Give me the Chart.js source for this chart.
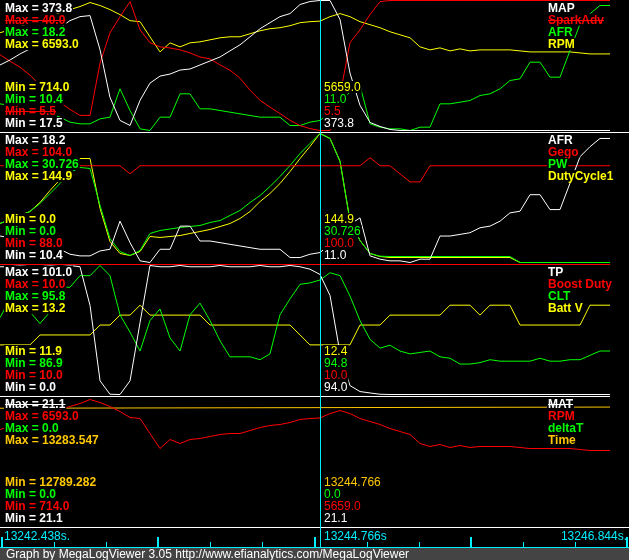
<!DOCTYPE html>
<html>
<head>
<meta charset="utf-8">
<script src="https://cdn.jsdelivr.net/npm/chart.js@4.4.0/dist/chart.umd.min.js"></script>
<style>
  html, body { margin: 0; padding: 0; background: #000; }
</style>
</head>
<body>
<canvas id="log" width="629" height="560"></canvas>
<script>
// log record times (s)
const times = [
  13242.438, 13242.511, 13242.584, 13242.656, 13242.729, 13242.802, 13242.875, 13242.947, 13243.020, 13243.093,
  13243.166, 13243.238, 13243.311, 13243.384, 13243.457, 13243.529, 13243.602, 13243.675, 13243.748, 13243.820,
  13243.893, 13243.966, 13244.039, 13244.111, 13244.184, 13244.257, 13244.330, 13244.402, 13244.475, 13244.548,
  13244.621, 13244.693, 13244.766, 13244.839, 13244.912, 13244.984, 13245.057, 13245.130, 13245.203, 13245.275,
  13245.348, 13245.421, 13245.494, 13245.566, 13245.639, 13245.712, 13245.785, 13245.857, 13245.930, 13246.003,
  13246.076, 13246.148, 13246.221, 13246.294, 13246.367, 13246.439, 13246.512, 13246.585, 13246.658, 13246.730,
  13246.803, 13246.876
];
const constTimes = [13242.438, 13246.876];
const cursorTime = 13244.766;
const axisLabels = [13242.438, 13244.766, 13246.844];
const tickTimes = [13242.453, 13242.832, 13243.211, 13243.589, 13243.968, 13244.347, 13244.726,
  13245.105, 13245.484, 13245.862, 13246.241, 13246.620, 13246.999];

const mapVals = [
  197.0, 210.8, 227.4, 241.2, 260.6, 279.9, 299.2, 318.6, 329.6, 332.4,
  238.5, 108.6, 45.1, 31.3, 100.4, 147.3, 166.6, 172.2, 183.2, 186.0,
  197.0, 208.1, 219.1, 235.7, 252.3, 274.4, 296.5, 313.0, 329.6, 337.9,
  362.8, 371.0, 373.8, 373.8, 321.3, 175.0, 86.6, 39.6, 28.5, 20.3,
  17.5, 17.5, 17.5, 17.5, 17.5, 17.5, 17.5, 17.5, 17.5, 17.5,
  17.5, 17.5, 17.5, 17.5, 17.5, 17.5, 17.5, 17.5, 17.5, 17.5,
  17.5, 17.5
];
const sparkAdv = [
  25.6, 23.9, 22.3, 20.2, 17.5, 14.9, 13.0, 11.1, 9.5, 9.5,
  23.4, 31.4, 35.7, 39.7, 32.2, 28.8, 27.7, 27.4, 26.9, 26.1,
  25.0, 24.5, 22.9, 21.5, 19.4, 16.2, 13.5, 11.7, 10.0, 8.2,
  6.8, 6.0, 5.5, 5.5, 14.9, 28.8, 32.2, 36.3, 39.7, 40.0,
  40.0, 40.0, 40.0, 40.0, 40.0, 40.0, 40.0, 40.0, 40.0, 40.0,
  40.0, 40.0, 40.0, 40.0, 40.0, 40.0, 40.0, 40.0, 40.0, 40.0,
  40.0, 40.0
];
const afr = [
  12.0, 11.9, 11.8, 11.7, 11.6, 11.4, 11.2, 10.9, 10.8, 10.8,
  11.1, 11.2, 12.9, 11.6, 10.5, 10.4, 11.2, 11.2, 12.6, 12.6,
  11.7, 11.7, 11.6, 11.5, 11.4, 11.3, 11.2, 11.2, 11.2, 10.7,
  10.7, 10.9, 11.0, 11.5, 12.1, 12.7, 13.1, 10.8, 10.6, 10.5,
  10.5, 10.4, 10.6, 10.6, 12.0, 12.0, 12.1, 12.2, 12.5, 12.6,
  12.9, 13.4, 13.5, 14.5, 14.5, 13.6, 13.6, 15.2, 16.8, 17.4,
  17.9, 17.9
];
const rpm = [
  5134, 5271, 5408, 5590, 5727, 5863, 6046, 6182, 6319, 6501,
  6365, 6182, 5955, 5681, 5636, 4952, 4268, 4678, 4496, 4678,
  4724, 4815, 4906, 4952, 4952, 5089, 5225, 5317, 5362, 5453,
  5590, 5636, 5659, 5863, 6000, 5863, 5636, 5499, 5362, 5180,
  5043, 4906, 4496, 4360, 4451, 4314, 4405, 4314, 4360, 4360,
  4360, 4360, 4314, 4268, 4268, 4268, 4268, 4268, 4223, 4177,
  4177, 4177
];
const gego = [
  100, 100, 100, 100, 100, 100, 100, 100, 100, 100,
  100, 100, 100, 99, 100, 100, 100, 100, 100, 100,
  100, 100, 100, 100, 100, 100, 100, 100, 100, 100,
  100, 100, 100, 100, 100, 100, 100, 101, 100, 100,
  99, 98, 98, 100, 100, 100, 100, 100, 100, 100,
  100, 100, 100, 100, 100, 100, 100, 100, 100, 100,
  100, 100
];
const pw = [
  9.29, 10.24, 11.20, 12.15, 14.05, 16.44, 18.82, 21.44, 22.63, 22.39,
  13.58, 5.72, 2.62, 1.67, 2.86, 6.91, 7.62, 7.98, 8.34, 8.58,
  8.81, 9.53, 10.00, 11.20, 12.39, 14.29, 15.96, 18.10, 20.49, 23.11,
  25.96, 28.35, 30.726, 29.54, 24.06, 10.00, 5.24, 2.14, 1.50, 1.43,
  1.43, 1.43, 1.43, 1.43, 1.43, 1.43, 1.43, 1.43, 1.43, 1.43,
  1.43, 1.43, 0, 0, 0, 0, 0, 0, 0, 0,
  0, 0
];
const duty = [
  43.8, 48.3, 52.8, 57.3, 67.4, 80.9, 93.2, 106.7, 116.8, 116.8,
  60.7, 23.6, 10.1, 7.9, 12.4, 29.2, 28.1, 29.2, 30.3, 32.6,
  34.8, 37.1, 40.4, 43.8, 49.4, 57.3, 68.5, 77.5, 88.7, 102.2,
  116.8, 130.3, 144.9, 139.3, 113.5, 47.2, 24.7, 10.1, 6.7, 5.6,
  5.6, 5.6, 5.6, 5.6, 5.6, 5.6, 5.6, 5.6, 5.6, 5.6,
  5.6, 5.6, 0, 0, 0, 0, 0, 0, 0, 0,
  0, 0
];
const tp = [
  100, 100, 101, 100, 100, 101, 100, 101, 100, 69.7,
  10.7, 0.2, 0.0, 10.7, 56.4, 101, 100, 100, 101, 100,
  100, 100, 101, 100, 100, 100, 101, 100, 100, 101,
  100, 98.1, 94.0, 77.5, 32.1, 7.0, 2.3, 1.2, 0.2, 0.0,
  0.0, 0.0, 0.0, 0.0, 0.0, 0.0, 0.0, 0.0, 0.0, 0.0,
  0.0, 0.0, 0.0, 0.0, 0.0, 0.0, 0.0, 0.0, 0.0, 0.0,
  0.0, 0.0
];
const boostDuty = [10.0, 10.0];
const clt = [
  92.2, 93.5, 93.4, 92.6, 91.8, 92.6, 94.3, 94.3, 95.1, 95.1,
  95.8, 95.1, 92.4, 91.2, 89.9, 92.0, 92.8, 90.8, 89.9, 92.4,
  93.2, 92.0, 90.6, 89.5, 89.5, 89.5, 89.3, 89.7, 92.4, 93.5,
  94.5, 94.6, 94.8, 95.3, 95.1, 93.7, 92.0, 90.7, 90.1, 90.3,
  89.9, 89.7, 89.8, 89.9, 89.5, 89.4, 89.0, 89.0, 89.1, 89.3,
  89.2, 89.2, 89.2, 89.2, 89.4, 89.2, 89.2, 89.3, 89.3, 89.6,
  89.9, 89.9
];
const battV = [
  12.4, 12.4, 12.4, 12.4, 12.5, 12.5, 12.5, 12.5, 12.5, 12.5,
  12.6, 12.6, 12.7, 12.7, 12.8, 12.7, 12.7, 12.7, 12.7, 12.7,
  12.7, 12.6, 12.6, 12.6, 12.6, 12.6, 12.6, 12.6, 12.6, 12.6,
  12.5, 12.4, 12.4, 12.4, 12.4, 12.4, 12.6, 12.6, 12.6, 12.7,
  12.7, 12.7, 12.7, 12.7, 12.7, 12.8, 12.8, 12.8, 12.7, 12.8,
  12.8, 12.8, 12.6, 12.6, 12.6, 12.6, 12.6, 12.6, 12.6, 12.8,
  12.8, 12.8
];
const mat = [21.1, 21.1];
const deltaT = [0.0, 0.0];

// the four graph panels, 4 channels each (white, red, green, yellow)
const names = [
  ['MAP', 'SparkAdv', 'AFR', 'RPM'],
  ['AFR', 'Gego', 'PW', 'DutyCycle1'],
  ['TP', 'Boost Duty', 'CLT', 'Batt V'],
  ['MAT', 'RPM', 'deltaT', 'Time']
];
const traces = [
  [mapVals, sparkAdv, afr, rpm],
  [afr, gego, pw, duty],
  [tp, boostDuty, clt, battV],
  [mat, rpm, deltaT, times]
];
const maxVals = [[373.8, 40.0, 18.2, 6593.0], [18.2, 104.0, 30.726, 144.9], [101.0, 10.0, 95.8, 13.2], [21.1, 6593.0, 0.0, 13283.547]];
const minVals = [[17.5, 5.5, 10.4, 714.0], [10.4, 88.0, 0.0, 0.0], [0.0, 10.0, 86.9, 11.9], [21.1, 714.0, 0.0, 12789.282]];

const colors = [
  ['#ffffff', '#ff0000', '#00ff00', '#ffff00'],
  ['#ffffff', '#ff0000', '#00ff00', '#ffff00'],
  ['#ffffff', '#ff0000', '#00ff00', '#ffff00'],
  ['#ffffff', '#ff0000', '#00ff00', '#ffc800']
];
const strike = { 'SparkAdv': ['max', 'min', 'name'], 'MAT': ['max', 'name'] };
const cyan = '#00f0ff';

// layout (pixels)
const plotBottom = 527;
const panelTop = [0, 132, 264, 396];
const panelBottom = [132, 264, 396, 527];
const panelBox = [[0.5, 130.5], [133.5, 262.5], [265.5, 394.5], [397.5, 526.5]];
const xMin = 13242.438, xMax = 13247.014;

function fmt(v) {
  const one = Math.abs(v * 10 - Math.round(v * 10)) < 1e-6;
  return v.toFixed(one ? 1 : 3);
}

const cursorIdx = times.indexOf(cursorTime);
const scales = { x: { type: 'linear', display: false, min: xMin, max: xMax, bounds: 'data' } };
const datasets = [];
const cursorText = [];

traces.forEach((row, p) => {
  cursorText.push([]);
  row.forEach((ys, s) => {
    const id = 'y' + p + s;
    let lo = minVals[p][s], hi = maxVals[p][s];
    let top = panelBox[p][0], bot = panelBox[p][1];
    if (lo === hi) { lo = hi - 1; top -= 1; bot = top + 129; } // flat channel sits on the panel top
    const R = (hi - lo) * plotBottom / (bot - top);
    const axMax = hi + top / plotBottom * R;
    scales[id] = { type: 'linear', display: false, bounds: 'data', min: axMax - R, max: axMax };
    const xs = ys.length === times.length ? times : constTimes;
    datasets.push({
      data: ys.map((v, i) => ({ x: xs[i], y: v })),
      yAxisID: id,
      borderColor: colors[p][s],
      borderWidth: 1,
      pointRadius: 0,
      tension: 0,
      fill: false,
      order: s
    });
    cursorText[p].push(fmt(ys.length === times.length ? ys[cursorIdx] : ys[0]));
  });
});

function label(c, txt, x, cy, color, alignRight, struck) {
  const w = c.measureText(txt).width;
  const left = alignRight ? x - w : x;
  c.fillStyle = '#000';
  c.fillRect(left - 1, cy - 6, w + 2, 12);
  c.fillStyle = color;
  c.fillText(txt, left, cy + 4);
  if (struck) c.fillRect(left, Math.round(cy), w, 1);
}

const logPlugin = {
  id: 'logView',
  beforeDraw(chart) {
    const c = chart.ctx;
    c.save();
    c.fillStyle = '#000';
    c.fillRect(0, 0, chart.width, chart.height);
    c.restore();
  },
  afterDatasetsDraw(chart) {
    const c = chart.ctx;
    const xs = chart.scales.x;
    const W = chart.width;
    c.save();
    c.textAlign = 'left';
    c.textBaseline = 'alphabetic';

    // panel separators
    c.fillStyle = '#ffffff';
    c.fillRect(0, 132, W, 1);
    c.fillRect(0, 527, W, 1);

    // cursor
    const cx = Math.round(xs.getPixelForValue(cursorTime));
    c.fillStyle = cyan;
    c.fillRect(cx, 0, 1, 547);

    // min / max / names / cursor values
    for (let p = 0; p < 4; p++) {
      for (let s = 0; s < 4; s++) {
        const nm = names[p][s];
        const st = strike[nm] || [];
        const col = colors[p][s];
        const cyMax = panelTop[p] + 7.5 + 12.2 * s;
        const cyMin = panelBottom[p] - 9 - 12 * s;
        c.font = 'bold 12px "Liberation Sans", Arial, sans-serif';
        label(c, 'Max = ' + fmt(maxVals[p][s]), 5, cyMax, col, false, st.includes('max'));
        label(c, 'Min = ' + fmt(minVals[p][s]), 5, cyMin, col, false, st.includes('min'));
        label(c, nm, 548, cyMax, col, false, st.includes('name'));
        c.font = '12px "Liberation Sans", Arial, sans-serif';
        label(c, cursorText[p][s], 324, cyMin, col, false, false);
      }
    }

    // time axis strip
    c.fillStyle = cyan;
    c.fillRect(0, 547, W, 1);
    tickTimes.forEach((t, i) => {
      const px = Math.round(xs.getPixelForValue(t));
      if (i % 3 === 0) c.fillRect(px - 1, 537, 2, 10);
      else c.fillRect(px, 542, 1, 5);
    });
    c.font = '12px "Liberation Sans", Arial, sans-serif';
    c.fillText(axisLabels[0].toFixed(3) + 's.', 4, 540);
    c.fillText(axisLabels[1].toFixed(3) + 's', cx + 4, 540);
    const endTxt = axisLabels[2].toFixed(3) + 's.';
    c.fillText(endTxt, 627 - c.measureText(endTxt).width, 540);

    // footer
    c.fillStyle = '#444444';
    c.fillRect(0, 548, W, 12);
    c.fillStyle = '#ffffff';
    c.font = '12px "Liberation Sans", Arial, sans-serif';
    c.fillText('Graph by MegaLogViewer 3.05 http://www.efianalytics.com/MegaLogViewer', 6, 558);
    c.restore();
  }
};

new Chart(document.getElementById('log'), {
  type: 'line',
  data: { datasets: datasets },
  options: {
    responsive: false,
    animation: false,
    devicePixelRatio: 1,
    events: [],
    layout: { padding: { left: 0, right: 0, top: 0, bottom: 33 } },
    plugins: { legend: { display: false }, tooltip: { enabled: false } },
    scales: scales
  },
  plugins: [logPlugin]
});
</script>
</body>
</html>
